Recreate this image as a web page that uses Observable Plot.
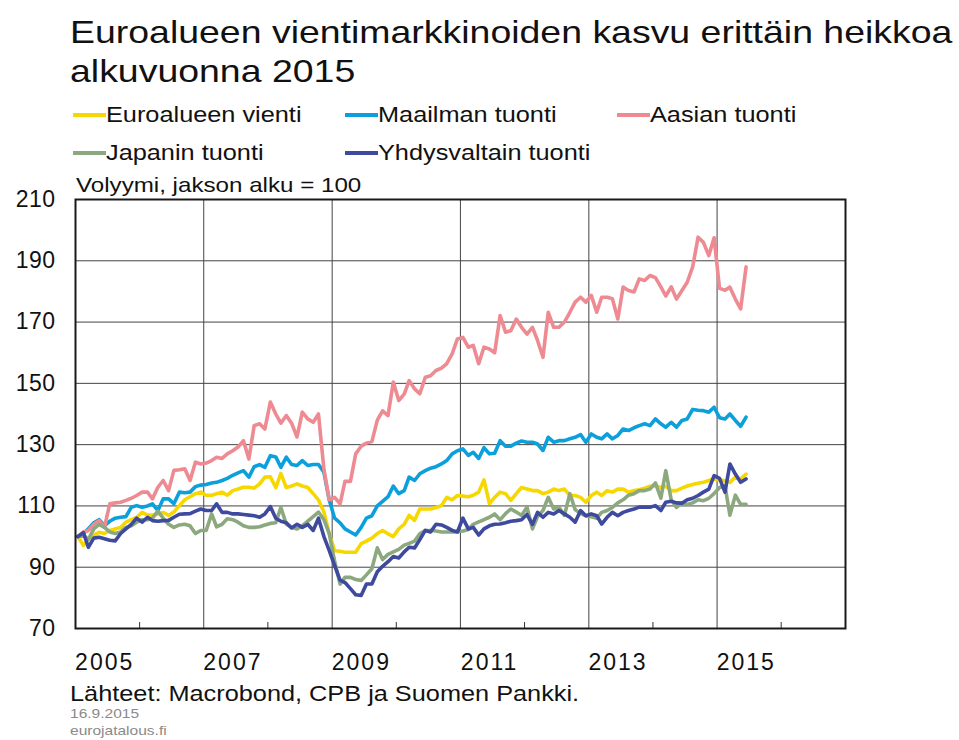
<!DOCTYPE html>
<html>
<head>
<meta charset="utf-8">
<script src="https://cdn.jsdelivr.net/npm/d3@7"></script>
<script src="https://cdn.jsdelivr.net/npm/@observablehq/plot@0.6"></script>
<style>
  body { margin: 0; background: #fff; }
  #page { position: relative; width: 959px; height: 740px; overflow: hidden; background: #fff;
          font-family: "Liberation Sans", Arial, sans-serif; color: #111; }
  .t { position: absolute; z-index: 2; white-space: nowrap; line-height: 1; transform-origin: 0 0; transform: scaleX(1.15); }
  .sw { position: absolute; z-index: 2; height: 3.5px; width: 33px; }
  #chart { position: absolute; z-index: 1; left: 0; top: 180px; }
  #chart g[aria-label="x-axis tick label"] text { letter-spacing: 2px; }
  #chart g[aria-label="y-axis tick label"] text { letter-spacing: 0.5px; }
</style>
</head>
<body>
<div id="page">
  <div class="t" style="left:70px;top:16px;font-size:32px;transform:scaleX(1.17)">Euroalueen vientimarkkinoiden kasvu erittäin heikkoa</div>
  <div class="t" style="left:70px;top:55px;font-size:32px;transform:scaleX(1.17)">alkuvuonna 2015</div>
  <div id="legend"></div>
  <div class="t" style="left:76px;top:174px;font-size:21px">Volyymi, jakson alku = 100</div>
  <div id="chart"></div>
  <div class="t" style="left:70px;top:683px;font-size:22px">Lähteet: Macrobond, CPB ja Suomen Pankki.</div>
  <div class="t" style="left:70px;top:707px;font-size:13.5px;color:#8a8a8a">16.9.2015</div>
  <div class="t" style="left:70px;top:724px;font-size:13.5px;color:#8a8a8a">eurojatalous.fi</div>
</div>
<script>
// ---- data (monthly, Jan 2005 – Jun 2015, index: period start = 100) ----
const seriesNames = ["Euroalueen vienti", "Maailman tuonti", "Aasian tuonti", "Japanin tuonti", "Yhdysvaltain tuonti"];
const seriesColors = ["#F6D800", "#0BA0DC", "#EE8A92", "#8CA87E", "#3E4A9E"];

const euroExports = [
  100, 97.1, 99, 100.5, 101.4, 101, 102, 102.5, 103, 104.7,
  105.5, 106.3, 107.9, 107, 107, 107.4, 107.9, 106.9, 108, 110.1,
  112, 113, 114, 114.5, 113.5, 113.5, 114, 114.5, 113.5, 115,
  115.5, 116.1, 116.1, 115.8, 117.2, 119.4, 119.5, 116, 120.6, 116,
  116.5, 117.2, 116.5, 116, 114, 112, 108, 101, 95.4, 95.2,
  94.9, 94.9, 94.9, 97.7, 98.5, 99.5, 101, 102, 100.9, 100,
  102.5, 104, 106.9, 105.3, 109, 109, 109, 109.5, 110.1, 112.8,
  112, 113.4, 113.2, 113, 113.5, 114.5, 118.5, 110.8, 112.8, 114.5,
  114, 111.8, 114, 116, 115.5, 115, 115, 114, 114.5, 115.5,
  115, 115.5, 113.4, 113.4, 112.8, 111.2, 113.4, 114.5, 113.4, 115,
  114.5, 115.5, 115.5, 114.5, 115, 115.3, 115.8, 116.4, 116.6, 116,
  116.4, 115, 115, 115.8, 116.5, 117, 117.4, 117.7, 118.3, 118.8,
  118.5, 118.2, 117.7, 119.4, 118.8, 120.4
];
const worldImports = [
  100, 101, 102.5, 104.5, 105.5, 103.6, 105, 106, 106.3, 106.5,
  109.6, 110.1, 109.6, 110, 110.7, 108.5, 112.3, 112.3, 110.7, 114.5,
  114.3, 114.5, 116.3, 116.8, 117, 117.5, 117.7, 118.3, 119, 120,
  120.8, 121.5, 119.4, 122.8, 123.5, 122.6, 126.4, 126, 122.6, 125.9,
  123.5, 123.2, 124.8, 123.2, 123.5, 123.5, 121, 112, 106, 104.5,
  102.5, 101.5, 100.5, 103, 106, 106.8, 110, 111.5, 113, 116.5,
  114, 115, 119.4, 118.3, 120.5, 121.5, 122.3, 122.8, 123.7, 124.8,
  127, 128, 128.6, 126.5, 127.5, 125.5, 129, 127, 127.2, 131.3,
  129.5, 129.5, 130.5, 131.2, 130.8, 130.8, 130.2, 128.1, 132.4, 130.8,
  131.3, 131.3, 131.9, 132.4, 133.3, 130.8, 133.5, 132.4, 131.9, 133.5,
  131.9, 133, 135.1, 134.6, 135.5, 136.2, 136.8, 136.2, 138.4, 136.8,
  135.7, 137.3, 135.7, 137.9, 138.4, 141.5, 141.2, 141.1, 140.6, 142.2,
  138.8, 138.4, 140, 137.9, 136, 139
];
const asiaImports = [
  100, 101.5, 102, 104, 105.2, 103, 110.7, 111, 111.2, 111.8,
  112.5, 113.4, 114.5, 114.5, 112.3, 116.1, 118.3, 115, 121.6, 121.8,
  122.1, 118.3, 124.3, 123.7, 124, 124.8, 125.9, 125.5, 127, 128,
  129.2, 131.3, 125.3, 136.2, 136.8, 135.1, 143.9, 140, 137, 139.5,
  137, 132.5, 140.6, 138.4, 137.3, 140, 122, 112, 112.8, 110.7,
  118, 118, 127, 129.5, 130.5, 131, 138, 141, 139.5, 150.4,
  144.4, 146.5, 150.9, 148.2, 146.6, 152, 152.5, 154.2, 155, 156.4,
  159.6, 164.5, 165, 161.8, 162.4, 156.4, 161.8, 161.2, 160, 172.1,
  166.7, 167.2, 171, 168.3, 166.1, 168.3, 164, 158.5, 173.2, 168.3,
  168.3, 170, 173.2, 176.5, 178.1, 176.5, 178.7, 173.2, 178.1, 178.1,
  177.6, 171, 181.4, 180.3, 179.8, 184.1, 183.6, 185.2, 184.5, 181.5,
  178.5, 181.5, 177.5, 180.3, 183, 188, 197.7, 196, 191.7, 197.5,
  181, 180.4, 181.4, 177.5, 174.3, 188
];
const japanImports = [
  100, 100.5, 99, 102.5, 104, 103, 101.5, 101, 101.5, 103,
  103.5, 104.7, 105.5, 105.5, 106, 108.3, 106, 104, 103, 103.8,
  104, 103.5, 101, 102, 102, 107.4, 103.2, 104, 105.8, 105.5,
  104.7, 103.5, 103, 103, 103.2, 103.8, 104.3, 104.5, 109.5, 104,
  103, 102.5, 103.5, 105, 106.5, 108, 105.5, 101, 92, 84.5,
  86.7, 86.7, 86, 85.7, 87.5, 89.5, 96.3, 92.5, 94.2, 95,
  95.8, 97.2, 97.8, 98.5, 100.9, 102, 102, 101.8, 101.5, 101.5,
  101.5, 101.6, 101.8, 102.3, 104, 104.8, 105.5, 106.3, 107.4, 105.5,
  107.5, 109, 108, 106.9, 109.6, 102.5, 106.5, 108.5, 112.8, 109,
  109.6, 106.9, 114, 108.8, 107.5, 106.8, 106.5, 106, 107.9, 108.5,
  109.5, 111, 112, 113.5, 114, 115, 115, 115.5, 117.5, 112.5,
  121.5, 112, 109.5, 111, 110.5, 111, 112, 111.7, 112.5, 114,
  116, 116.5, 107, 113.5, 110.5, 110.5
];
const usImports = [
  100, 101.3, 96.5, 99.5, 99.8, 99.3, 98.8, 98.6, 101, 102.5,
  104, 106, 104.7, 106.3, 105.2, 105, 105.2, 105.3, 106.3, 107.3,
  107.4, 107.5, 108.3, 109, 108.5, 108.5, 110.7, 107.9, 107.9, 107.4,
  107.4, 107.2, 107, 106.8, 106.3, 107.4, 109.8, 106, 105, 104.5,
  102.8, 104, 103, 104, 102, 106, 100, 95.5, 90.5, 85.8,
  85, 83, 81, 80.8, 84.5, 84.5, 88.5, 90.3, 91.8, 93.5,
  93, 95, 96.5, 96.3, 99, 102, 101.5, 104, 103.8, 103,
  102, 101.5, 106, 102.5, 103, 100.5, 102.5, 103.5, 104, 104.1,
  104.5, 105, 105.2, 105.5, 107.2, 104, 107.9, 106.3, 107.9, 107.4,
  108.5, 107.4, 106.3, 104.7, 108.5, 106.8, 107.4, 106.8, 104.1, 106.3,
  107.9, 106.8, 107.9, 108.5, 109, 109.6, 109.6, 109.6, 110.1, 108.5,
  111.2, 111.5, 111, 110.9, 112, 112.5, 113.4, 114.5, 115.5, 119.9,
  119, 114.5, 123.7, 120.4, 117.7, 118.8
];

const yTicks = [70, 90, 110, 130, 150, 170, 190, 210];
const yGridValues = [90, 110, 130, 150, 170, 190];
const labelYears = [2005, 2007, 2009, 2011, 2013, 2015];
const gridYears = [2007, 2009, 2011, 2013, 2015];
const minorTickYears = [2006, 2008, 2010, 2012, 2014, 2016];
const xStartYear = 2005, xEndYear = 2017;
const startYear = 2005;

// ---- build table ----
const allSeries = [euroExports, worldImports, asiaImports, japanImports, usImports];
const rows = [];
allSeries.forEach((vals, s) => {
  vals.forEach((v, i) => rows.push({ series: seriesNames[s], date: new Date(Date.UTC(startYear, i, 15)), value: v }));
});

// ---- legend (HTML) ----
const legendPos = [
  { sw: [73, 113.3], tx: [106, 104] },
  { sw: [345, 113.3], tx: [378, 104] },
  { sw: [617, 113.3], tx: [650, 104] },
  { sw: [73, 151.3], tx: [106, 141.5] },
  { sw: [345, 151.3], tx: [378, 141.5] }
];
const legend = document.getElementById("legend");
seriesNames.forEach((name, i) => {
  const p = legendPos[i];
  const sw = document.createElement("div");
  sw.className = "sw";
  sw.style.left = p.sw[0] + "px"; sw.style.top = p.sw[1] + "px"; sw.style.background = seriesColors[i];
  legend.appendChild(sw);
  const t = document.createElement("div");
  t.className = "t";
  t.style.left = p.tx[0] + "px"; t.style.top = p.tx[1] + "px"; t.style.fontSize = "22px";
  t.textContent = name;
  legend.appendChild(t);
});

// ---- chart ----
const yr = (y, m = 0, d = 1) => new Date(Date.UTC(y, m, d));
const chart = Plot.plot({
  width: 959,
  height: 500,
  marginLeft: 75,
  marginRight: 114,
  marginTop: 19,
  marginBottom: 52,
  style: { fontFamily: "'Liberation Sans', Arial, sans-serif", fontSize: "23px", color: "#111", background: "transparent", overflow: "visible" },
  x: { type: "utc", domain: [yr(xStartYear), yr(xEndYear)], label: null },
  y: { domain: [yTicks[0], yTicks[yTicks.length - 1]], label: null },
  color: { domain: seriesNames, range: seriesColors },
  marks: [
    Plot.gridY(yGridValues, { stroke: "#444", strokeOpacity: 1, strokeWidth: 1 }),
    Plot.gridX(gridYears.map(y => yr(y)), { stroke: "#444", strokeOpacity: 1, strokeWidth: 1 }),
    Plot.axisX(minorTickYears.map(y => yr(y)), { anchor: "bottom", tickSize: 6, dy: -6, tickFormat: () => "", stroke: "#333", label: null }),
    Plot.axisY(yTicks, { anchor: "left", tickSize: 0, tickPadding: 20, fontSize: 23, fill: "#111", label: null }),
    Plot.axisX(labelYears.map(y => yr(y, 5, 16)), { anchor: "bottom", tickSize: 0, tickPadding: 25, fontSize: 23, fill: "#111", label: null, tickFormat: d => String(d.getUTCFullYear()) }),
    Plot.line(rows, { x: "date", y: "value", z: "series", stroke: "series", strokeWidth: 3.6, strokeLinejoin: "round", strokeLinecap: "round" }),
    Plot.frame({ stroke: "#1a1a1a", strokeWidth: 2 })
  ]
});
document.getElementById("chart").appendChild(chart);
</script>
</body>
</html>
